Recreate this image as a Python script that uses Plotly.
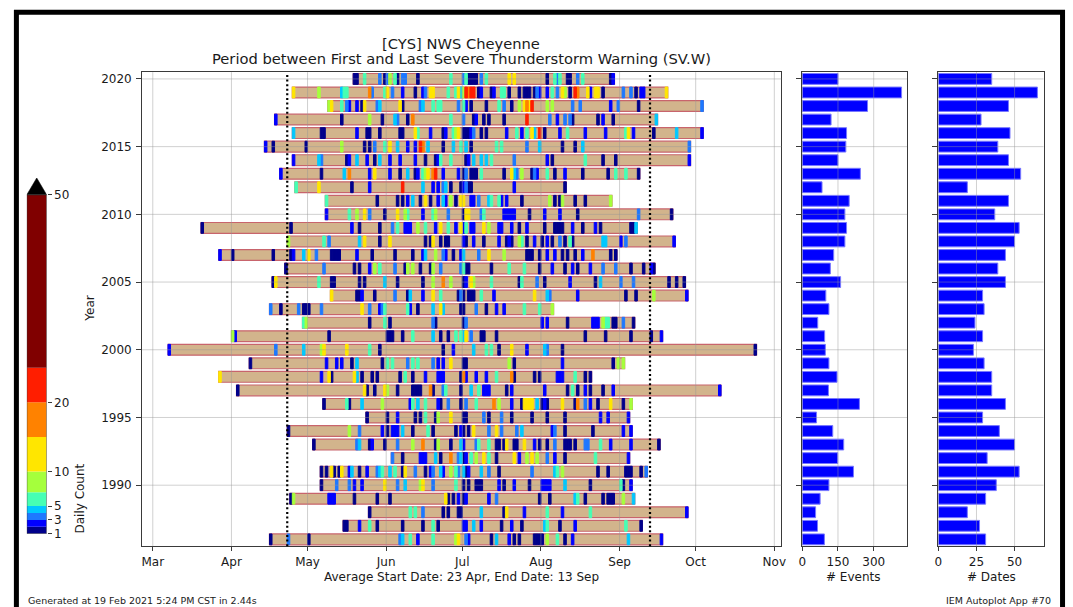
import plotly.graph_objects as go

W, H = 1073, 607

# ---------------- data ----------------
years = list(range(2020, 1985, -1))
first_day = [139, 115, 129, 108, 115, 104, 115, 110, 116, 128, 128, 79, 113, 86, 112, 107, 130, 106,
             119, 91, 66, 98, 86, 93, 127, 144, 113, 123, 154, 126, 126, 114, 145, 135, 106]
last_day = [241, 262, 276, 258, 276, 271, 271, 251, 222, 240, 264, 250, 265, 242, 257, 269, 270, 217,
            249, 260, 297, 245, 232, 283, 248, 247, 248, 259, 247, 254, 248, 249, 270, 252, 260]
num_events = [150, 417, 274, 121, 186, 183, 150, 244, 83, 197, 179, 186, 179, 132, 118, 161, 99, 112,
              65, 94, 97, 112, 146, 110, 240, 60, 128, 174, 149, 215, 112, 75, 56, 64, 93]
num_dates = [35, 65, 46, 28, 47, 39, 46, 54, 19, 46, 37, 53, 50, 44, 39, 44, 29, 30,
             24, 29, 23, 30, 35, 35, 44, 29, 40, 50, 32, 53, 38, 31, 19, 27, 31]

avg_start_day = 113   # 23 Apr
avg_end_day = 256     # 13 Sep

month_days = [60, 91, 121, 152, 182, 213, 244, 274, 305]
month_labels = ["Mar", "Apr", "May", "Jun", "Jul", "Aug", "Sep", "Oct", "Nov"]
year_ticks = [1990, 1995, 2000, 2005, 2010, 2015, 2020]
events_ticks = [0, 150, 300]
dates_ticks = [0, 25, 50]

level_bounds = [1, 2, 3, 4, 5, 7, 10, 15, 20, 25, 50]
level_colors = ["#00008b", "#0000ff", "#1e78ff", "#00c8ff", "#46ffb4",
                "#a5ff3c", "#ffe600", "#ff8200", "#ff1e00", "#800000"]
cbar_ticks = [1, 3, 5, 10, 20, 50]

# (day of year, daily warning count)
daily_counts = {
    2020: [(139, 1), (140, 1), (143, 6), (149, 3), (151, 1), (152, 3), (153, 8), (155, 6), (156, 1), (158, 3),
           (159, 3), (164, 1), (177, 6), (182, 3), (183, 6), (184, 1), (185, 1), (186, 1), (187, 1), (189, 3),
           (191, 6), (200, 12), (202, 12), (215, 1), (218, 6), (219, 3), (220, 6), (223, 1), (224, 1), (227, 3),
           (229, 6), (240, 1), (241, 2)],
    2019: [(115, 12), (125, 8), (134, 4), (135, 6), (136, 6), (145, 17), (146, 3), (151, 6), (152, 12), (154, 3),
           (158, 2), (163, 1), (166, 2), (167, 3), (169, 12), (170, 12), (176, 6), (179, 6), (180, 12), (181, 4),
           (182, 8), (183, 22), (184, 17), (185, 22), (186, 22), (188, 1), (189, 2), (193, 1), (194, 2), (197, 6),
           (198, 6), (200, 1), (204, 1), (206, 1), (207, 1), (208, 1), (210, 1), (211, 3), (212, 2), (215, 2),
           (217, 6), (219, 3), (221, 12), (222, 8), (224, 1), (226, 22), (227, 17), (231, 12), (232, 2), (234, 12),
           (235, 12), (237, 1), (245, 3), (248, 3), (250, 1), (252, 2), (253, 2), (262, 12)],
    2018: [(129, 8), (130, 12), (134, 6), (136, 3), (137, 2), (140, 2), (142, 1), (143, 12), (148, 3), (149, 4),
           (157, 12), (158, 1), (165, 3), (166, 4), (170, 6), (172, 6), (173, 6), (180, 3), (182, 6), (183, 2),
           (185, 1), (191, 1), (196, 6), (198, 3), (201, 1), (204, 8), (206, 12), (207, 17), (208, 12), (209, 22),
           (215, 8), (217, 8), (225, 3), (228, 3), (240, 2), (243, 3), (251, 1), (276, 3)],
    2017: [(108, 2), (134, 1), (145, 8), (150, 1), (155, 4), (156, 3), (160, 1), (162, 17), (177, 6), (182, 3),
           (186, 1), (187, 2), (190, 1), (192, 1), (198, 1), (207, 22), (216, 3), (219, 2), (222, 3), (224, 3),
           (225, 1), (235, 1), (237, 2), (241, 1), (258, 4)],
    2016: [(115, 4), (126, 1), (127, 1), (140, 2), (144, 1), (145, 1), (149, 1), (157, 1), (158, 1), (163, 12),
           (164, 6), (169, 2), (174, 1), (175, 2), (178, 6), (179, 8), (180, 12), (182, 1), (183, 1), (184, 1),
           (185, 2), (186, 3), (189, 1), (191, 1), (199, 2), (203, 6), (205, 2), (207, 6), (209, 12), (210, 4),
           (212, 22), (214, 1), (220, 2), (223, 6), (230, 2), (238, 2), (246, 6), (247, 12), (249, 2), (257, 1),
           (266, 4), (276, 2)],
    2015: [(104, 2), (107, 1), (120, 1), (134, 8), (143, 1), (145, 1), (147, 3), (151, 6), (153, 12), (156, 4),
           (160, 2), (163, 2), (165, 22), (166, 17), (168, 4), (174, 1), (178, 4), (181, 6), (183, 4), (185, 1),
           (195, 6), (197, 6), (207, 3), (212, 4), (221, 1), (226, 1), (229, 4), (271, 3)],
    2014: [(115, 2), (125, 4), (126, 3), (136, 1), (137, 2), (140, 4), (144, 2), (147, 1), (149, 4), (153, 2),
           (157, 2), (163, 2), (167, 1), (171, 1), (172, 2), (173, 6), (177, 6), (183, 1), (184, 2), (186, 4),
           (189, 4), (191, 4), (193, 6), (202, 3), (215, 2), (217, 1), (230, 6), (237, 1), (242, 1), (271, 2)],
    2013: [(110, 2), (126, 1), (135, 4), (137, 17), (145, 2), (147, 12), (153, 2), (157, 1), (160, 4), (163, 1),
           (164, 2), (166, 6), (167, 8), (168, 12), (170, 17), (171, 22), (174, 2), (180, 2), (182, 1), (183, 3),
           (185, 1), (186, 1), (187, 1), (189, 6), (198, 1), (201, 12), (202, 4), (203, 3), (205, 8), (209, 1),
           (210, 3), (211, 2), (215, 6), (218, 1), (222, 2), (229, 1), (239, 1), (242, 6), (246, 6), (251, 1)],
    2012: [(116, 6), (125, 12), (138, 1), (145, 2), (158, 22), (166, 4), (170, 2), (172, 2), (174, 3), (175, 4),
           (177, 1), (181, 1), (182, 2), (183, 3), (184, 1), (185, 1), (202, 2), (222, 1)],
    2011: [(128, 6), (148, 1), (156, 1), (158, 1), (160, 2), (162, 4), (165, 1), (167, 12), (169, 1), (172, 2),
           (174, 4), (175, 2), (177, 8), (179, 1), (181, 12), (182, 12), (185, 2), (186, 2), (188, 3), (192, 4),
           (193, 6), (196, 6), (197, 2), (199, 2), (205, 1), (216, 8), (218, 1), (220, 1), (221, 8), (226, 1),
           (230, 1), (240, 8)],
    2010: [(128, 2), (137, 6), (140, 8), (143, 12), (145, 3), (151, 1), (156, 12), (159, 8), (160, 6), (166, 2),
           (170, 6), (171, 8), (176, 3), (182, 1), (183, 12), (184, 12), (189, 3), (190, 6), (198, 2), (199, 2),
           (200, 2), (201, 2), (202, 2), (208, 1), (214, 2), (220, 2), (227, 1), (251, 3), (264, 1)],
    2009: [(79, 1), (114, 1), (138, 2), (141, 1), (149, 1), (154, 3), (156, 6), (159, 2), (160, 2), (161, 2),
           (164, 8), (167, 6), (171, 2), (173, 12), (176, 6), (179, 2), (181, 12), (182, 2), (183, 6), (185, 2),
           (186, 2), (190, 12), (192, 8), (196, 2), (197, 2), (201, 2), (204, 1), (207, 2), (214, 1), (218, 1),
           (219, 1), (220, 1), (221, 1), (225, 2), (229, 1), (234, 2), (236, 1), (248, 1), (249, 1), (250, 4)],
    2008: [(113, 8), (127, 6), (129, 3), (141, 4), (143, 12), (149, 1), (153, 12), (167, 1), (169, 1), (170, 12),
           (173, 1), (175, 1), (176, 1), (182, 2), (183, 1), (186, 2), (190, 1), (196, 2), (199, 1), (200, 2),
           (201, 1), (204, 8), (205, 6), (207, 1), (210, 2), (213, 1), (215, 2), (217, 1), (220, 3), (222, 1),
           (224, 6), (225, 1), (237, 4), (238, 4), (244, 2), (246, 3), (265, 2)],
    2007: [(86, 2), (91, 1), (107, 1), (114, 1), (115, 2), (119, 4), (121, 12), (124, 3), (130, 1), (131, 1),
           (132, 1), (133, 1), (140, 2), (146, 1), (155, 1), (162, 1), (166, 2), (167, 4), (171, 8), (174, 3),
           (175, 2), (178, 1), (181, 2), (182, 4), (188, 3), (192, 12), (198, 8), (207, 1), (208, 1), (209, 1),
           (212, 1), (215, 2), (218, 2), (221, 1), (223, 1), (226, 1), (229, 2), (233, 17), (240, 1), (242, 1)],
    2006: [(112, 1), (127, 3), (139, 1), (141, 1), (145, 2), (147, 8), (149, 6), (155, 3), (159, 1), (160, 8),
           (162, 8), (165, 1), (169, 1), (170, 8), (173, 3), (181, 3), (182, 6), (183, 1), (184, 1), (193, 1),
           (200, 6), (206, 6), (212, 1), (217, 2), (222, 1), (225, 2), (227, 1), (232, 2), (237, 3), (242, 3),
           (248, 1), (253, 1), (256, 2), (257, 1)],
    2005: [(107, 1), (108, 12), (125, 6), (130, 1), (131, 1), (141, 1), (143, 1), (151, 4), (156, 1), (166, 1),
           (170, 8), (174, 17), (177, 8), (182, 1), (183, 2), (185, 12), (186, 8), (193, 6), (204, 1), (205, 6),
           (211, 3), (214, 1), (224, 2), (234, 1), (236, 4), (244, 3), (249, 3), (263, 1), (266, 1), (269, 1)],
    2004: [(130, 12), (140, 1), (141, 1), (142, 2), (147, 1), (155, 3), (160, 1), (161, 4), (166, 2), (170, 12),
           (173, 6), (180, 1), (181, 3), (182, 1), (184, 1), (185, 1), (186, 1), (189, 6), (194, 2), (210, 12),
           (215, 4), (216, 3), (227, 2), (246, 1), (250, 1), (257, 8), (270, 2)],
    2003: [(106, 3), (110, 1), (117, 3), (119, 1), (120, 1), (121, 1), (126, 3), (142, 12), (145, 3), (149, 2),
           (150, 3), (151, 6), (160, 6), (161, 2), (164, 1), (170, 4), (173, 12), (174, 4), (181, 1), (182, 1),
           (187, 3), (191, 1), (195, 2), (198, 2), (206, 6), (212, 6), (217, 8)],
    2002: [(119, 6), (120, 8), (145, 1), (151, 6), (153, 1), (170, 3), (171, 1), (182, 1), (183, 3), (213, 2),
           (215, 2), (223, 1), (233, 2), (234, 2), (235, 2), (237, 8), (238, 6), (239, 6), (241, 1), (242, 1),
           (245, 3), (249, 1)],
    2001: [(91, 8), (92, 2), (129, 1), (152, 1), (153, 1), (154, 1), (158, 1), (162, 6), (170, 4), (173, 1),
           (176, 1), (179, 6), (181, 6), (182, 4), (183, 12), (185, 3), (189, 1), (190, 1), (195, 1), (230, 1),
           (238, 1), (248, 1), (256, 1), (260, 2)],
    2000: [(66, 2), (108, 3), (119, 4), (126, 8), (127, 12), (136, 12), (145, 6), (149, 1), (174, 1), (178, 2),
           (186, 4), (191, 6), (193, 6), (196, 1), (201, 12), (207, 2), (214, 4), (215, 3), (221, 1), (297, 1)],
    1999: [(98, 1), (128, 2), (132, 2), (134, 2), (138, 1), (140, 4), (150, 1), (152, 6), (154, 6), (160, 3),
           (162, 6), (164, 6), (170, 3), (172, 2), (174, 2), (177, 12), (182, 1), (183, 1), (200, 8), (202, 1),
           (221, 2), (241, 1), (243, 8), (245, 8)],
    1998: [(86, 12), (126, 2), (129, 12), (130, 1), (139, 12), (140, 4), (142, 1), (146, 1), (148, 1), (157, 1),
           (159, 6), (162, 1), (167, 2), (172, 2), (173, 2), (174, 2), (181, 1), (182, 17), (183, 2), (187, 2),
           (191, 2), (195, 6), (201, 17), (202, 1), (210, 1), (212, 1), (219, 2), (220, 2), (221, 2), (226, 6),
           (230, 1), (232, 1)],
    1997: [(93, 1), (143, 12), (144, 1), (147, 1), (151, 12), (152, 8), (156, 1), (162, 1), (163, 1), (164, 1),
           (165, 1), (169, 17), (170, 1), (174, 3), (175, 6), (181, 1), (185, 4), (188, 6), (190, 2), (191, 2),
           (192, 2), (199, 1), (201, 2), (214, 2), (223, 1), (225, 6), (227, 1), (230, 2), (232, 1), (237, 1),
           (241, 2), (283, 2)],
    1996: [(127, 1), (136, 6), (137, 1), (142, 4), (150, 8), (161, 2), (162, 6), (164, 4), (167, 6), (172, 2),
           (173, 1), (176, 3), (181, 1), (183, 3), (187, 6), (194, 17), (196, 8), (201, 2), (205, 1), (206, 12),
           (207, 12), (208, 12), (209, 12), (211, 4), (213, 1), (214, 2), (215, 1), (221, 12), (226, 1), (227, 17),
           (230, 3), (232, 2), (235, 1), (240, 12), (245, 1), (248, 8)],
    1995: [(144, 1), (152, 1), (156, 2), (163, 1), (165, 1), (167, 6), (171, 1), (172, 8), (177, 12), (182, 1),
           (183, 1), (190, 3), (192, 1), (197, 3), (201, 1), (209, 1), (215, 1), (222, 1), (236, 2), (239, 2),
           (247, 2)],
    1994: [(113, 1), (137, 8), (141, 3), (150, 2), (152, 1), (154, 2), (155, 2), (156, 2), (158, 4), (162, 1),
           (168, 6), (170, 1), (179, 1), (181, 2), (182, 1), (184, 1), (186, 12), (192, 3), (195, 12), (197, 3),
           (203, 3), (205, 4), (217, 2), (218, 3), (222, 1), (233, 1), (245, 2), (248, 2)],
    1993: [(123, 1), (140, 3), (141, 4), (145, 1), (146, 2), (151, 1), (156, 3), (162, 8), (166, 17), (171, 1),
           (172, 8), (177, 1), (181, 4), (182, 2), (187, 3), (188, 6), (192, 6), (195, 1), (196, 1), (198, 1),
           (199, 12), (202, 1), (203, 1), (206, 12), (210, 2), (212, 1), (215, 1), (218, 3), (222, 1), (223, 1),
           (224, 1), (226, 1), (230, 3), (231, 3), (236, 6), (240, 2), (248, 2), (259, 1)],
    1992: [(154, 3), (158, 1), (165, 2), (166, 2), (167, 2), (171, 4), (173, 1), (177, 17), (180, 3), (181, 4),
           (182, 1), (183, 2), (185, 6), (187, 8), (190, 12), (192, 6), (195, 1), (202, 12), (204, 2), (207, 8),
           (209, 12), (211, 8), (215, 3), (218, 2), (222, 1), (234, 6), (247, 2)],
    1991: [(126, 1), (128, 1), (130, 12), (131, 1), (133, 1), (134, 12), (137, 2), (138, 4), (141, 1), (144, 2),
           (148, 3), (149, 4), (150, 6), (153, 4), (155, 6), (158, 1), (159, 12), (163, 3), (167, 1), (169, 2),
           (170, 3), (173, 4), (174, 2), (177, 8), (179, 6), (180, 3), (182, 4), (183, 1), (184, 2), (189, 4),
           (192, 3), (196, 1), (209, 3), (218, 4), (219, 6), (221, 8), (235, 1), (239, 1), (246, 1), (247, 1),
           (248, 1), (252, 1), (254, 3)],
    1990: [(126, 1), (132, 3), (137, 3), (139, 2), (142, 2), (151, 12), (156, 3), (159, 4), (165, 8), (166, 12),
           (170, 3), (179, 6), (182, 1), (184, 1), (187, 1), (188, 1), (189, 1), (196, 2), (198, 1), (202, 2),
           (208, 1), (213, 2), (214, 2), (215, 2), (216, 2), (222, 4), (232, 1), (244, 6), (245, 1), (248, 2)],
    1989: [(114, 1), (115, 8), (129, 2), (130, 2), (131, 2), (139, 1), (148, 1), (153, 1), (175, 12), (176, 1),
           (178, 1), (180, 2), (182, 1), (183, 2), (192, 2), (195, 3), (212, 1), (216, 1), (226, 4), (227, 6),
           (230, 1), (237, 1), (239, 1), (240, 1), (241, 1), (245, 8), (249, 4)],
    1988: [(145, 1), (161, 6), (163, 6), (166, 3), (174, 1), (176, 1), (180, 1), (181, 1), (189, 4), (198, 1),
           (199, 12), (206, 2), (215, 6), (221, 2), (232, 6), (270, 2)],
    1987: [(135, 1), (136, 1), (141, 2), (145, 6), (148, 1), (158, 1), (166, 1), (170, 6), (172, 1), (182, 2),
           (183, 2), (186, 4), (189, 2), (197, 1), (201, 2), (205, 1), (214, 4), (215, 6), (220, 1), (226, 2),
           (246, 6), (252, 1)],
    1986: [(106, 1), (113, 3), (121, 1), (157, 3), (158, 4), (161, 6), (164, 2), (170, 6), (179, 8), (180, 12),
           (183, 3), (184, 2), (193, 1), (195, 4), (200, 2), (202, 1), (204, 1), (210, 1), (211, 1), (212, 1),
           (213, 1), (215, 8), (219, 6), (222, 1), (225, 2), (247, 4), (260, 2)],
}

# ---------------- styling helpers ----------------
FONT = "DejaVu Sans"
TXT = "#1a1a1a"
GRID = "rgba(150,150,150,0.45)"
SPINE = "#3a3a3a"


def px_x(p):
    return p / W


def px_y(p):
    return 1 - p / H


def level_index(c):
    idx = 0
    for i, b in enumerate(level_bounds[:-1]):
        if c >= b:
            idx = i
    return idx


fig = go.Figure()

# period bars
fig.add_trace(go.Bar(
    y=years, x=[l + 1 - f for f, l in zip(first_day, last_day)], base=first_day,
    orientation="h", width=0.8,
    marker=dict(color="#d2b48c", line=dict(color="#c8646c", width=1.2)),
    xaxis="x", yaxis="y", hoverinfo="skip", showlegend=False))

# daily event stripes, one trace per colour bin
bins = {i: ([], []) for i in range(len(level_colors))}
for yr, evs in daily_counts.items():
    for d, c in evs:
        bins[level_index(c)][0].append(yr)
        bins[level_index(c)][1].append(d)
for i, (ys, ds) in bins.items():
    if not ys:
        continue
    fig.add_trace(go.Bar(
        y=ys, x=[1] * len(ys), base=ds, orientation="h", width=0.8,
        marker=dict(color=level_colors[i], line=dict(color=level_colors[i], width=1.0)),
        xaxis="x", yaxis="y", hoverinfo="skip", showlegend=False))

# side panels
fig.add_trace(go.Bar(
    y=years, x=num_events, orientation="h", width=0.8,
    marker=dict(color="#0000ff", line=dict(color="#7878ff", width=1)),
    xaxis="x2", yaxis="y2", hoverinfo="skip", showlegend=False))
fig.add_trace(go.Bar(
    y=years, x=num_dates, orientation="h", width=0.8,
    marker=dict(color="#0000ff", line=dict(color="#7878ff", width=1)),
    xaxis="x3", yaxis="y3", hoverinfo="skip", showlegend=False))

# colorbar
lows = level_bounds[:-1]
highs = level_bounds[1:]
fig.add_trace(go.Bar(
    x=[0.5] * len(lows), y=[h - l for l, h in zip(lows, highs)], base=lows, width=1,
    marker=dict(color=level_colors, line=dict(width=0)),
    xaxis="x4", yaxis="y4", hoverinfo="skip", showlegend=False))
arrow_len = 2.43
top = level_bounds[-1]
fig.add_trace(go.Scatter(
    x=[0, 1, 0.5, 0], y=[top, top, top + arrow_len, top], fill="toself",
    fillcolor="black", line=dict(color="black", width=0.5), mode="lines",
    xaxis="x4", yaxis="y4", hoverinfo="skip", showlegend=False))

tickfont = dict(family=FONT, size=12, color=TXT)
base_ax = dict(showline=True, mirror=True, linecolor=SPINE, linewidth=1,
               ticks="outside", tickcolor=SPINE, tickwidth=1,
               showgrid=False, zeroline=False, tickfont=tickfont, fixedrange=True)
x_ax = dict(base_ax, ticklen=4)
y_ax = dict(base_ax, ticklen=5, ticklabelstandoff=2)

y_range = [1985.5, 2020.5]
main_dom_x = [px_x(139.3), px_x(784)]
main_dom_y = [px_y(552.5), px_y(73)]

fig.update_layout(
    width=W, height=H, margin=dict(l=0, r=0, t=0, b=0, pad=0),
    paper_bgcolor="white", plot_bgcolor="white", barmode="overlay",
    showlegend=False, font=dict(family=FONT, color=TXT),
    xaxis=dict(domain=main_dom_x, range=[55.8, 307.8], tickvals=month_days, ticktext=month_labels,
               anchor="y", **x_ax),
    yaxis=dict(domain=main_dom_y, range=y_range, tickvals=year_ticks, anchor="x", **y_ax),
    xaxis2=dict(domain=[px_x(805), px_x(910.7)], range=[0, 440], tickvals=events_ticks,
                anchor="y2", **x_ax),
    yaxis2=dict(domain=main_dom_y, range=y_range, tickvals=year_ticks, showticklabels=False,
                anchor="x2", **y_ax),
    xaxis3=dict(domain=[px_x(942.3), px_x(1048.3)], range=[0, 69], tickvals=dates_ticks,
                anchor="y3", **x_ax),
    yaxis3=dict(domain=main_dom_y, range=y_range, tickvals=year_ticks, showticklabels=False,
                anchor="x3", **y_ax),
    xaxis4=dict(domain=[px_x(23), px_x(43)], range=[0, 1], visible=False, fixedrange=True, anchor="y4"),
    yaxis4=dict(domain=[px_y(540), px_y(180)], range=[1, top + arrow_len], side="right",
                tickvals=cbar_ticks, ticks="outside", ticklen=4, tickcolor=SPINE,
                showline=False, showgrid=False, zeroline=False, tickfont=tickfont,
                anchor="x4", fixedrange=True),
)

shapes = []
# grid lines drawn above the bars
for d in month_days:
    shapes.append(dict(type="line", xref="x", yref="y domain", x0=d, x1=d, y0=0, y1=1,
                       line=dict(color=GRID, width=1), layer="above"))
for yt in year_ticks:
    for ax in ["", "2", "3"]:
        shapes.append(dict(type="line", xref=f"x{ax} domain", yref=f"y{ax}", x0=0, x1=1, y0=yt, y1=yt,
                           line=dict(color=GRID, width=1), layer="above"))
for v in events_ticks:
    shapes.append(dict(type="line", xref="x2", yref="y2 domain", x0=v, x1=v, y0=0, y1=1,
                       line=dict(color=GRID, width=1), layer="above"))
for v in dates_ticks:
    shapes.append(dict(type="line", xref="x3", yref="y3 domain", x0=v, x1=v, y0=0, y1=1,
                       line=dict(color=GRID, width=1), layer="above"))
# average start/end
for d in [avg_start_day, avg_end_day]:
    shapes.append(dict(type="line", xref="x", yref="y domain", x0=d, x1=d, y0=0, y1=1,
                       line=dict(color="black", width=2.2, dash="2px,2.6px"), layer="above"))
# colorbar outline
shapes.append(dict(type="rect", xref="x4", yref="y4", x0=0, x1=1, y0=level_bounds[0], y1=top,
                   line=dict(color=SPINE, width=0.8), layer="above"))
# outer black frame
shapes.append(dict(type="rect", xref="paper", yref="paper", x0=px_x(12.5), x1=px_x(1067.5),
                   y0=px_y(12.5), y1=px_y(660), line=dict(color="black", width=5), layer="above"))
fig.update_layout(shapes=shapes)

ann = []


def text(s, x, y, size=12, xanchor="center", angle=0):
    ann.append(dict(text=s, x=px_x(x), y=px_y(y), xref="paper", yref="paper", showarrow=False,
                    xanchor=xanchor, yanchor="middle", textangle=angle,
                    font=dict(family=FONT, size=size, color=TXT)))


text("[CYS] NWS Cheyenne", 461, 44, 14.7)
text("Period between First and Last Severe Thunderstorm Warning (SV.W)", 461, 59.5, 14.7)
text("Average Start Date: 23 Apr, End Date: 13 Sep", 461, 584, 12)
text("# Events", 857, 584, 12)
text("# Dates", 996, 584, 12)
text("Year", 87, 312, 12, angle=-90)
text("Daily Count", 77, 504, 12, angle=-90)
text("Generated at 19 Feb 2021 5:24 PM CST in 2.44s", 22, 607, 9.5, xanchor="left")
text("IEM Autoplot App #70", 1058, 607, 9.5, xanchor="right")
fig.update_layout(annotations=ann)

page_js = ("document.body.style.margin='0px';"
           "document.body.style.overflow='hidden';")
fig.write_html("out.html", config={"displayModeBar": False, "staticPlot": True},
               post_script=page_js)
